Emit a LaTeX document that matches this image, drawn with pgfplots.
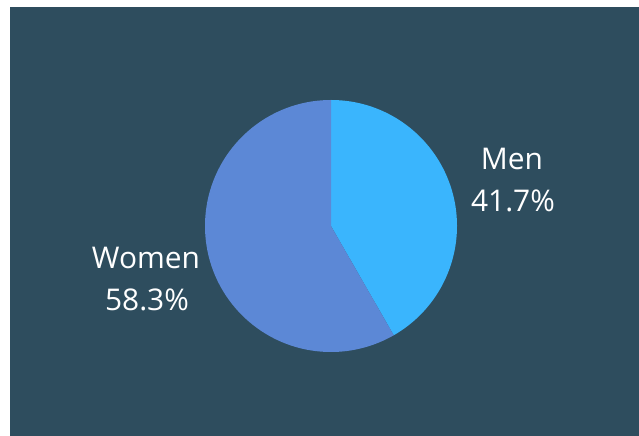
\documentclass[border=0pt]{standalone}
\usepackage{pgfplots}
\usepackage{pgfplotstable}
\pgfplotsset{compat=1.18}
\usepackage{fontspec}
\setmainfont{Open Sans}
\definecolor{bgdark}{HTML}{2E4D5E}
\definecolor{menblue}{HTML}{3AB5FD}
\definecolor{womenblue}{HTML}{5C88D6}
\pgfplotstableread{
label share
Men 41.7
Women 58.3
}\piedata
\begin{document}
\begin{tikzpicture}
\pgfplotstablegetelem{0}{share}\of\piedata \let\menshare\pgfplotsretval
\pgfplotstablegetelem{1}{share}\of\piedata \let\womenshare\pgfplotsretval
\pgfmathsetmacro{\menstart}{90-\menshare*3.6}
\pgfmathsetmacro{\womenend}{90+\womenshare*3.6}
\begin{axis}[
  width=639bp, height=436bp, scale only axis,
  xmin=0, xmax=639, ymin=0, ymax=436,
  hide axis, clip=false,
]
\fill[white] (axis cs:0,0) rectangle (axis cs:639,436);
\fill[bgdark] (axis cs:10,0) rectangle (axis cs:639,429);
\fill[menblue] (axis cs:331,210) -- ++(90:126bp) arc[start angle=90, end angle=\menstart, radius=126bp] -- cycle;
\fill[womenblue] (axis cs:331,210) -- ++(90:126bp) arc[start angle=90, end angle=\womenend, radius=126bp] -- cycle;
\node[text=white, font=\fontsize{30}{30}\selectfont, align=center] at (axis cs:512,277) {Men};
\node[text=white, font=\fontsize{30}{30}\selectfont, align=center] at (axis cs:513,235) {41.7\%};
\node[text=white, font=\fontsize{30}{30}\selectfont, align=center] at (axis cs:146,178) {Women};
\node[text=white, font=\fontsize{30}{30}\selectfont, align=center] at (axis cs:147,136) {58.3\%};
\end{axis}
\end{tikzpicture}
\end{document}
